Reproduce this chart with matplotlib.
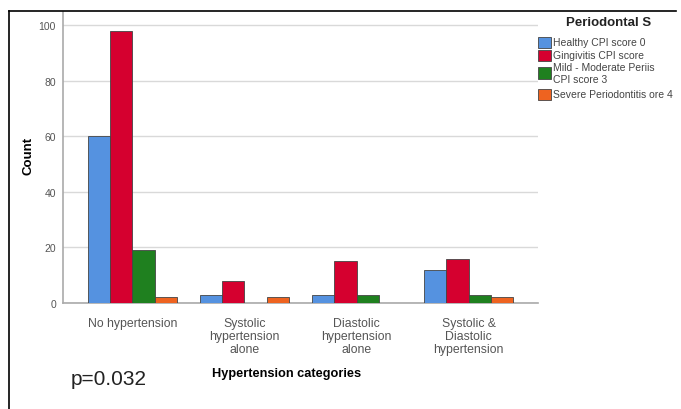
import numpy as np
import matplotlib
matplotlib.use('Agg')
import matplotlib.pyplot as plt
from matplotlib.patches import Rectangle
from matplotlib.lines import Line2D

# Data
categories = ['No hypertension', 'Systolic\nhypertension\nalone',
              'Diastolic\nhypertension\nalone', 'Systolic &\nDiastolic\nhypertension']
healthy = [60, 3, 3, 12]
gingivitis = [98, 8, 15, 16]
mild_moderate = [19, 0, 3, 3]
severe = [2, 2, 0, 2]
series_labels = ['Healthy CPI score 0', 'Gingivitis CPI score',
                 'Mild - Moderate Periis\nCPI score 3', 'Severe Periodontitis ore 4']
colors = ['#5592E0', '#D5002F', '#1F801F', '#EE6320']
y_ticks = [0, 20, 40, 60, 80, 100]

plt.rcParams['font.family'] = ['Liberation Sans', 'DejaVu Sans']

W, H = 681, 410
fig = plt.figure(figsize=(W / 100, H / 100), dpi=100)
ax = fig.add_axes([63 / W, 1 - 304 / H, (538 - 63) / W, (304 - 13) / H])

# Draws the grouped bars
x = np.arange(len(categories))
width = 0.2
all_series = [healthy, gingivitis, mild_moderate, severe]
for i, (vals, col) in enumerate(zip(all_series, colors)):
    ax.bar(x + (i - 1.5) * width, vals, width, color=col, edgecolor='#444444',
           linewidth=0.6, zorder=3)

# Axis properties
ax.set_xlim(-0.62, 3.62)
ax.set_ylim(0, 104.7)
ax.set_yticks(y_ticks)
ax.set_yticklabels([str(t) for t in y_ticks], fontsize=7.5, color='#555555')
ax.set_xticks(x)
ax.set_xticklabels(categories, fontsize=8.8, color='#555555', linespacing=1.1)
ax.tick_params(axis='y', length=0, pad=5)
ax.tick_params(axis='x', length=0, pad=10)
ax.grid(axis='y', color='#d9d9d9', linewidth=1, zorder=0)
for side in ['top', 'right']:
    ax.spines[side].set_visible(False)
for side in ['left', 'bottom']:
    ax.spines[side].set_color('#aaaaaa')
    ax.spines[side].set_linewidth(1.2)

ax.set_ylabel('Count', fontsize=9.5, fontweight='bold', va='center')
ax.yaxis.set_label_coords((28 - 63) / 475, (304 - 156) / 291)
ax.set_xlabel('Hypertension categories', fontsize=9.2, fontweight='bold', va='center')
ax.xaxis.set_label_coords((287 - 63) / 475, (304 - 374) / 291)

# Legend, drawn by hand to follow the original spacing
fig.text(609 / W, 1 - 23 / H, 'Periodontal S', fontsize=9.5, fontweight='bold',
         color='#222222', ha='center', va='center')
row_y = [43, 56, 74, 95]
for lab, col, yy in zip(series_labels, colors, row_y):
    fig.add_artist(Rectangle((538 / W, 1 - (yy + 5.5) / H), 13 / W, 11 / H,
                             transform=fig.transFigure, facecolor=col,
                             edgecolor='#444444', linewidth=0.6))
    fig.text(553 / W, 1 - yy / H, lab, fontsize=7.5, color='#444444',
             ha='left', va='center', linespacing=1.2)

# p-value note
fig.text(71 / W, 1 - 380 / H, 'p=0.032', fontsize=15, color='#222222',
         va='center', ha='left')

# Frame lines around the figure
fig.add_artist(Line2D([9 / W, 676 / W], [1 - 12 / H, 1 - 12 / H],
                      transform=fig.transFigure, color='black', linewidth=1.2))
fig.add_artist(Line2D([9 / W, 9 / W], [1 - 12 / H, 0],
                      transform=fig.transFigure, color='black', linewidth=1.2))

fig.savefig('out.png', dpi=100)
